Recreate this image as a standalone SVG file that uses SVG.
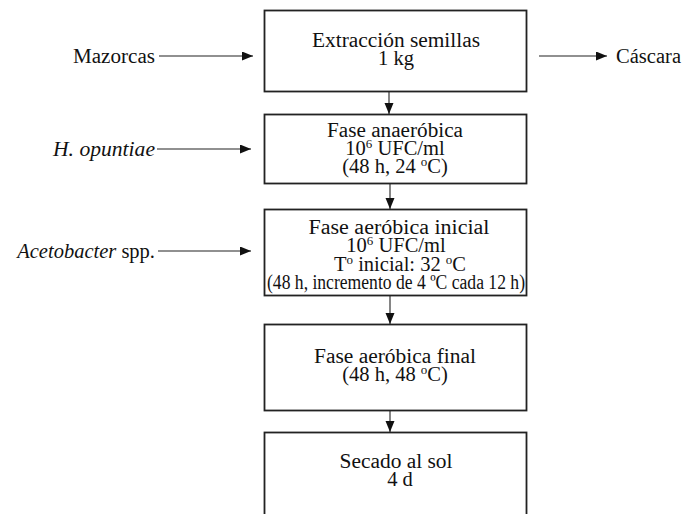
<svg xmlns="http://www.w3.org/2000/svg" width="685" height="514" viewBox="0 0 685 514">
<style>
.box{fill:#fff;stroke:#222;stroke-width:1.8}
.t{font-family:'Liberation Serif','Times New Roman','DejaVu Serif',serif;font-size:20.5px;fill:#111}
.c{text-anchor:middle}
.e{text-anchor:end}
.i{font-style:italic}
.ln{stroke:#222;stroke-width:1.1;fill:none;marker-end:url(#ah)}
</style>
<defs>
<marker id="ah" markerUnits="userSpaceOnUse" markerWidth="12" markerHeight="10" refX="11" refY="4.5" orient="auto">
<path d="M0,0 L11,4.5 L0,9 z" fill="#111"/>
</marker>
</defs>
<rect width="685" height="514" fill="#fff"/>
<g id="connectors">
<line class="ln" x1="159" y1="56" x2="253" y2="56"/>
<line class="ln" x1="539" y1="56" x2="607" y2="56"/>
<line class="ln" x1="157" y1="149" x2="251" y2="149"/>
<line class="ln" x1="158" y1="251" x2="251" y2="251"/>
<line class="ln" x1="389" y1="92" x2="389" y2="114"/>
<line class="ln" x1="390" y1="184" x2="390" y2="209"/>
<line class="ln" x1="390" y1="296" x2="390" y2="324"/>
<line class="ln" x1="390" y1="411" x2="390" y2="432"/>
</g>
<g id="mazorcas"><text class="t e" x="155" y="63" textLength="82" lengthAdjust="spacingAndGlyphs">Mazorcas</text></g>
<g id="cascara"><text class="t" x="616" y="63" textLength="65" lengthAdjust="spacingAndGlyphs">Cáscara</text></g>
<g id="hopuntiae"><text class="t e i" x="155" y="156" textLength="102" lengthAdjust="spacingAndGlyphs">H. opuntiae</text></g>
<g id="acetobacter"><text class="t e" x="155" y="258"><tspan class="i">Acetobacter</tspan> spp.</text></g>
<g id="extraccion">
<rect class="box" x="264.5" y="10.5" width="262" height="81"/>
<text class="t c" x="396" y="47" textLength="168" lengthAdjust="spacingAndGlyphs">Extracción semillas</text>
<text class="t c" x="396" y="65">1 kg</text>
</g>
<g id="anaerobica">
<rect class="box" x="264.5" y="114.5" width="262" height="69"/>
<text class="t c" x="395" y="137" textLength="136" lengthAdjust="spacingAndGlyphs">Fase anaeróbica</text>
<text class="t c" x="395" y="155">10<tspan dy="-7" font-size="13">6</tspan><tspan dy="7"> UFC/ml</tspan></text>
<text class="t c" x="395" y="173">(48 h, 24 <tspan dy="-7" font-size="13">o</tspan><tspan dy="7">C)</tspan></text>
</g>
<g id="aerobica-inicial">
<rect class="box" x="264.5" y="209.5" width="262" height="86"/>
<text class="t c" x="399" y="234" textLength="181" lengthAdjust="spacingAndGlyphs">Fase aeróbica inicial</text>
<text class="t c" x="396" y="252">10<tspan dy="-7" font-size="13">6</tspan><tspan dy="7"> UFC/ml</tspan></text>
<text class="t c" x="400" y="271">T<tspan dy="-7" font-size="13">o</tspan><tspan dy="7"> inicial: 32 </tspan><tspan dy="-7" font-size="13">o</tspan><tspan dy="7">C</tspan></text>
<text class="t c" x="396" y="289" textLength="258" lengthAdjust="spacingAndGlyphs">(48 h, incremento de 4 ºC cada 12 h)</text>
</g>
<g id="aerobica-final">
<rect class="box" x="264.5" y="324.5" width="262" height="86"/>
<text class="t c" x="395" y="363" textLength="162" lengthAdjust="spacingAndGlyphs">Fase aeróbica final</text>
<text class="t c" x="395" y="381">(48 h, 48 <tspan dy="-7" font-size="13">o</tspan><tspan dy="7">C)</tspan></text>
</g>
<g id="secado">
<rect class="box" x="264.5" y="432.5" width="262" height="100"/>
<text class="t c" x="396" y="468" textLength="113" lengthAdjust="spacingAndGlyphs">Secado al sol</text>
<text class="t c" x="400" y="486">4 d</text>
</g>
</svg>
